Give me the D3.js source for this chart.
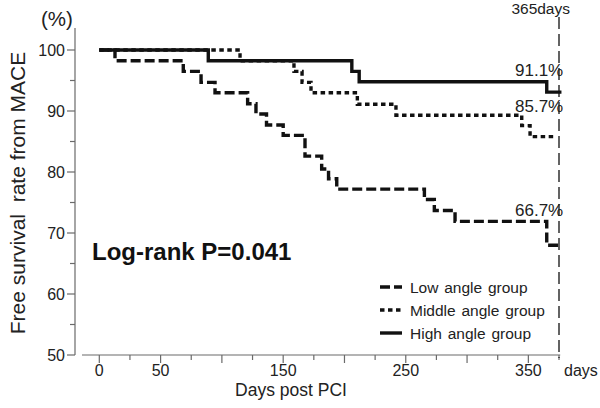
<!DOCTYPE html>
<html><head><meta charset="utf-8">
<script src="https://cdn.jsdelivr.net/npm/d3@7/dist/d3.min.js"></script>
<style>body{margin:0;background:#fff}svg{display:block}</style>
</head><body><svg id="c" width="600" height="408"></svg>
<script>
// ---- data ----
const groupNames = ["Low angle group", "Middle angle group", "High angle group"];
const lowDays  = [0, 12.8, 68.5, 83, 94.4, 121, 127.8, 136.4, 150, 167.8, 181.4, 187, 193.7, 265.2, 273.3, 290.2, 365, 375];
const lowSurv  = [100, 98.25, 96.5, 94.7, 93.0, 91.2, 89.5, 87.7, 86.0, 82.6, 80.5, 78.9, 77.2, 75.5, 73.7, 71.9, 68.0, 68.0];
const midDays  = [0, 114.8, 158.8, 165.4, 172.7, 210.5, 242, 344.6, 351.4, 373];
const midSurv  = [100, 98.25, 96.5, 94.7, 93.0, 91.1, 89.3, 87.6, 85.8, 85.8];
const highDays = [0, 88.9, 206, 212, 365, 377];
const highSurv = [100, 98.25, 96.5, 94.8, 93.1, 93.1];
const endLabels = ["66.7%", "85.7%", "91.1%"];
const xTickLabels = [0, 50, 150, 250, 350];
const yTickLabels = [50, 60, 70, 80, 90, 100];
const markerDay = 375;
const markerText = "365days";
const pValueText = "Log-rank P=0.041";

const FONT = "'Liberation Sans', Arial, Helvetica, sans-serif";
const svg = d3.select("#c");
const x = d3.scaleLinear().domain([0, 375]).range([99.3, 559]);
const y = d3.scaleLinear().domain([50, 100]).range([355, 50]);
const axisCol = "#6a6a6a";
const ink = "#111";

// ---- axes ----
svg.append("line").attr("x1", 75).attr("x2", 75).attr("y1", 28).attr("y2", y(50))
  .attr("stroke", axisCol).attr("stroke-width", 1.2);
const yMinor = d3.range(55, 100, 10);
yTickLabels.forEach(v => {
  svg.append("line").attr("x1", 67).attr("x2", 75).attr("y1", y(v)).attr("y2", y(v))
    .attr("stroke", axisCol).attr("stroke-width", 1.2);
  svg.append("text").attr("x", 65).attr("y", y(v) + 5.5).attr("text-anchor", "end")
    .attr("font-family", FONT).attr("font-size", 16).attr("fill", "#222").text(v);
});
yMinor.forEach(v => {
  svg.append("line").attr("x1", 70).attr("x2", 75).attr("y1", y(v)).attr("y2", y(v))
    .attr("stroke", axisCol).attr("stroke-width", 1.2);
});
svg.append("line").attr("x1", 82).attr("x2", x(376)).attr("y1", 355).attr("y2", 355)
  .attr("stroke", axisCol).attr("stroke-width", 1.2);
d3.range(0, 376, 25).forEach(d => {
  const major = d % 50 === 0;
  svg.append("line").attr("x1", x(d)).attr("x2", x(d)).attr("y1", 355).attr("y2", 355 + (major ? 8 : 5))
    .attr("stroke", axisCol).attr("stroke-width", 1.2);
});
xTickLabels.forEach(d => {
  svg.append("text").attr("x", x(d)).attr("y", 376).attr("text-anchor", "middle")
    .attr("font-family", FONT).attr("font-size", 16).attr("fill", "#222").text(d);
});
svg.append("text").attr("x", 564).attr("y", 376).attr("font-family", FONT).attr("font-size", 16)
  .attr("fill", "#222").text("days");
svg.append("text").attr("x", 291).attr("y", 396).attr("text-anchor", "middle")
  .attr("font-family", FONT).attr("font-size", 17.5).attr("fill", "#222").text("Days post PCI");
svg.append("text").attr("transform", "translate(25,193) rotate(-90)").attr("text-anchor", "middle")
  .attr("font-family", FONT).attr("font-size", 21).attr("fill", "#222")
  .attr("xml:space", "preserve").text("Free survival  rate from MACE");
svg.append("text").attr("x", 41).attr("y", 26).attr("font-family", FONT).attr("font-size", 20.5)
  .attr("fill", "#222").text("(%)");

// 365-day marker
svg.append("line").attr("x1", x(markerDay)).attr("x2", x(markerDay)).attr("y1", 17).attr("y2", 358)
  .attr("stroke", "#222").attr("stroke-width", 1.4).attr("stroke-dasharray", "12,5");
svg.append("text").attr("x", x(markerDay) + 11).attr("y", 14).attr("text-anchor", "end")
  .attr("font-family", FONT).attr("font-size", 15.5).attr("fill", "#222").text(markerText);

// ---- curves ----
const styles = [
  {dash: "10,4", days: lowDays, surv: lowSurv},
  {dash: "4.5,3.5", days: midDays, surv: midSurv},
  {dash: null, days: highDays, surv: highSurv}
];
const line = d3.line().x(d => x(d[0])).y(d => y(d[1])).curve(d3.curveStepAfter);
styles.forEach(s => {
  const pts = s.days.map((d, i) => [d, s.surv[i]]);
  svg.append("path").attr("d", line(pts)).attr("fill", "none").attr("stroke", ink)
    .attr("stroke-width", 3.4).attr("stroke-dasharray", s.dash);
});

// end labels
const labelBase = [215.5, 111.5, 75.5];
endLabels.forEach((t, i) => {
  svg.append("text").attr("x", 515).attr("y", labelBase[i]).attr("font-family", FONT)
    .attr("font-size", 17).attr("fill", "#222").text(t);
});

// p value
svg.append("text").attr("x", 92).attr("y", 260).attr("font-family", FONT).attr("font-size", 24)
  .attr("font-weight", "bold").attr("fill", ink).text(pValueText);

// legend
styles.forEach((s, i) => {
  const ly = 287 + i * 23;
  svg.append("line").attr("x1", 380).attr("x2", 402).attr("y1", ly).attr("y2", ly)
    .attr("stroke", ink).attr("stroke-width", 3.4).attr("stroke-dasharray", s.dash);
  svg.append("text").attr("x", 410).attr("y", ly + 5.5).attr("font-family", FONT)
    .attr("font-size", 15.5).attr("word-spacing", 1.5).attr("fill", "#222").text(groupNames[i]);
});
</script></body></html>
